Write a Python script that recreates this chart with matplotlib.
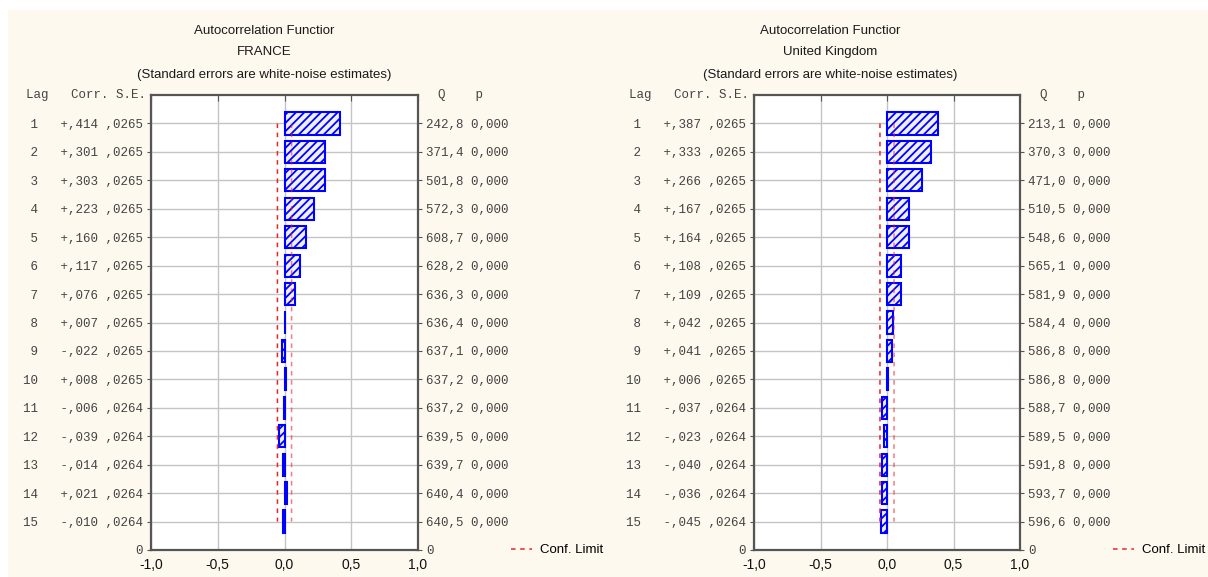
"""
Autocorrelation function panels (France / United Kingdom), STATISTICA style.
Saves out.png.
"""

import matplotlib
matplotlib.use("Agg")
import matplotlib.pyplot as plt
from matplotlib.patches import Rectangle

# ---- data ----------------------------------------------------------------
LAGS = list(range(1, 16))

FR_CORR = [0.414, 0.301, 0.303, 0.223, 0.160, 0.117, 0.076, 0.007,
           -0.022, 0.008, -0.006, -0.039, -0.014, 0.021, -0.010]
FR_SE = [0.0265] * 10 + [0.0264] * 5
FR_Q = [242.8, 371.4, 501.8, 572.3, 608.7, 628.2, 636.3, 636.4,
        637.1, 637.2, 637.2, 639.5, 639.7, 640.4, 640.5]
FR_P = [0.0] * 15

UK_CORR = [0.387, 0.333, 0.266, 0.167, 0.164, 0.108, 0.109, 0.042,
           0.041, 0.006, -0.037, -0.023, -0.040, -0.036, -0.045]
UK_SE = [0.0265] * 10 + [0.0264] * 5
UK_Q = [213.1, 370.3, 471.0, 510.5, 548.6, 565.1, 581.9, 584.4,
        586.8, 586.8, 588.7, 589.5, 591.8, 593.7, 596.6]
UK_P = [0.0] * 15

XTICKS = [-1.0, -0.5, 0.0, 0.5, 1.0]
XTICK_LABELS = ["-1,0", "-0,5", "0,0", "0,5", "1,0"]

TITLES = [["Autocorrelation Functior", "FRANCE",
           "(Standard errors are white-noise estimates)"],
          ["Autocorrelation Functior", "United Kingdom",
           "(Standard errors are white-noise estimates)"]]

# ---- style ----------------------------------------------------------------
W, H = 1208, 577
CREAM = "#fef9ef"
BLUE = "#0000ff"
RED = "#e8262a"
GRID = "#c4c4c4"
TXT = "#444444"
MONO = ["Liberation Mono", "DejaVu Sans Mono"]
NARROW = ["Liberation Sans Narrow", "Liberation Sans", "DejaVu Sans"]

plt.rcParams.update({"hatch.linewidth": 1.3, "hatch.color": BLUE})


def fmt_corr(c):
    return ("+" if c >= 0 else "-") + "," + f"{abs(c):.3f}"[2:]


def fmt_se(s):
    return "," + f"{s:.4f}"[2:]


def fmt_q(q):
    return f"{q:.1f}".replace(".", ",")


def fmt_p(p):
    return f"{p:.3f}".replace(".", ",")


def panel(fig, left_px, right_px, title_cx, titles, corr, se, q, p):
    top_px, bot_px = 95, 550
    ax = fig.add_axes([left_px / W, 1 - bot_px / H,
                       (right_px - left_px) / W, (bot_px - top_px) / H])
    ax.set_facecolor("white")
    ypos = [16 - k for k in LAGS]

    ax.barh(ypos, corr, height=0.78, facecolor="#eef0ff", edgecolor=BLUE,
            hatch="////", lw=1.5, zorder=3)
    lim_hi = [2 * s for s in se]
    lim_lo = [-2 * s for s in se]
    ax.plot(lim_lo, ypos, ls=(0, (3, 3)), color=RED, lw=1.1, zorder=4,
            label="Conf. Limit")
    ax.plot(lim_hi, ypos, ls=(0, (3, 3)), color=RED, lw=1.1, zorder=4,
            alpha=0.6)

    ax.set_xlim(-1, 1)
    ax.set_ylim(0, 16)
    ax.set_xticks(XTICKS, XTICK_LABELS, fontsize=10,
                  family=["Liberation Sans", "DejaVu Sans"], color="#111111")
    ax.tick_params(axis="x", bottom=False, top=True, direction="in",
                   length=4, pad=6, color="#555555")
    ax.grid(True, color=GRID, lw=1.0, zorder=0)
    for sp in ax.spines.values():
        sp.set_color("#555555")
        sp.set_linewidth(1.6)

    left_labels = [f"{k:>2}   {fmt_corr(c)} {fmt_se(s)}"
                   for k, c, s in zip(LAGS, corr, se)]
    ax.set_yticks(ypos + [0], left_labels + ["0"], family=MONO,
                  fontsize=9, color=TXT)
    ax.tick_params(axis="y", direction="out", length=3, pad=3,
                   color="#555555")

    axr = ax.twinx()
    axr.set_ylim(0, 16)
    right_labels = [f"{fmt_q(a)} {fmt_p(b)}" for a, b in zip(q, p)]
    axr.set_yticks(ypos + [0], right_labels + ["0"], family=MONO,
                   fontsize=9, color=TXT)
    axr.tick_params(axis="y", direction="out", length=3, pad=3,
                    color="#555555")
    for sp in axr.spines.values():
        sp.set_visible(False)

    # column headers
    ax.text(-0.018, 16, "Lag   Corr. S.E.", transform=ax.get_yaxis_transform(),
            ha="right", va="center", family=MONO, fontsize=9, color=TXT)
    ax.text(1.018, 16, "  Q    p", transform=ax.get_yaxis_transform(),
            ha="left", va="center", family=MONO, fontsize=9, color=TXT)

    for txt, ypx in zip(titles, [31, 52, 75]):
        fig.text(title_cx / W, 1 - ypx / H, txt, ha="center", va="center",
                 family=NARROW, fontsize=9.5, color="#1a1a1a")

    ax.legend(loc="center left", bbox_to_anchor=(1.33, 0.0), frameon=False,
              handlelength=1.6, handletextpad=0.6, borderaxespad=0,
              prop={"family": NARROW, "size": 9.5})
    return ax


fig = plt.figure(figsize=(W / 100, H / 100), dpi=100, facecolor="white")
fig.patches.append(Rectangle((8 / W, 0), 1 - 8 / W, 1 - 10 / H,
                             transform=fig.transFigure, facecolor=CREAM,
                             edgecolor="none", zorder=-10))

panel(fig, 151, 418, 264, TITLES[0], FR_CORR, FR_SE, FR_Q, FR_P)
panel(fig, 754, 1020, 830, TITLES[1], UK_CORR, UK_SE, UK_Q, UK_P)

fig.savefig("out.png", dpi=100, facecolor=fig.get_facecolor())
